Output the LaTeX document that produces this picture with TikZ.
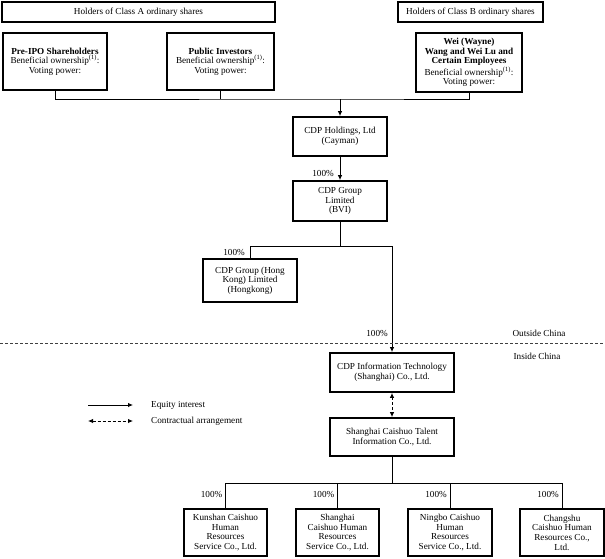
\documentclass[tikz,border=0pt]{standalone}
\usepackage{fontspec}
\setmainfont{Liberation Serif}
\usetikzlibrary{arrows.meta}
\begin{document}
\begin{tikzpicture}[x=1pt,y=-1pt,
 box/.style={draw,line width=1.8pt,align=center,inner sep=0pt,font=\fontsize{9.2}{9.6}\selectfont},
 conn/.style={line width=0.9pt},
 arr/.style={conn,-{Latex[length=5pt,width=4.5pt]}},
 darr/.style={conn,dashed,dash pattern=on 3pt off 2pt,{Latex[length=5pt,width=4.5pt]}-{Latex[length=5pt,width=4.5pt]}},
 lbl/.style={font=\fontsize{9.2}{9.6}\selectfont,inner sep=0pt}]
\useasboundingbox (0,0) rectangle (605,558);

% header boxes
\node[box,minimum width=273pt,minimum height=20pt] (hA) at (138.5,12) {Holders of Class A ordinary shares};
\node[box,minimum width=145pt,minimum height=20pt] (hB) at (470.5,12) {Holders of Class B ordinary shares};

% shareholders
\node[box,minimum width=104pt,minimum height=57pt] (pre) at (55,61.5) {\textbf{Pre-IPO Shareholders}\\Beneficial ownership\textsuperscript{(1)}:\\Voting power:};
\node[box,minimum width=107pt,minimum height=57pt] (pub) at (220.5,61.5) {\textbf{Public Investors}\\Beneficial ownership\textsuperscript{(1)}:\\Voting power:};
\node[box,minimum width=106pt,minimum height=59pt] (wei) at (469,62.5) {\textbf{Wei (Wayne)}\\\textbf{Wang and Wei Lu and}\\\textbf{Certain Employees}\\Beneficial ownership\textsuperscript{(1)}:\\Voting power:};

% companies
\node[box,minimum width=94pt,minimum height=39pt] (hold) at (340,136.5) {CDP Holdings, Ltd\\(Cayman)};
\node[box,minimum width=94pt,minimum height=40pt] (bvi) at (340,201) {CDP Group\\Limited\\(BVI)};
\node[box,minimum width=94pt,minimum height=43pt] (hk) at (250,280.5) {CDP Group (Hong\\Kong) Limited\\(Hongkong)};
\node[box,minimum width=124pt,minimum height=39pt] (info) at (392,372.5) {CDP Information Technology\\(Shanghai) Co., Ltd.};
\node[box,minimum width=124pt,minimum height=38pt] (tal) at (392,437) {Shanghai Caishuo Talent\\Information Co., Ltd.};

\node[box,minimum width=83pt,minimum height=47pt] (k) at (225.5,532.5) {Kunshan Caishuo\\Human\\Resources\\Service Co., Ltd.};
\node[box,minimum width=83pt,minimum height=47pt] (s) at (337.5,532.5) {Shanghai\\Caishuo Human\\Resources\\Service Co., Ltd.};
\node[box,minimum width=84pt,minimum height=47pt] (n) at (450,532.5) {Ningbo Caishuo\\Human\\Resources\\Service Co., Ltd.};
\node[box,minimum width=84pt,minimum height=47pt] (c) at (562,532.5) {Changshu\\Caishuo Human\\Resources Co.,\\Ltd.};

% connectors top
\coordinate (top) at (340,99);
\draw[conn] (pre.south) |- (top) -| (wei.south);
\draw[conn] (pub.south) -- (pub.south |- top);
\draw[arr] (top) -- (hold.north);
\draw[arr] (hold.south) -- (bvi.north);
\node[lbl,anchor=south east] (p0) at ([xshift=-6pt,yshift=3pt]bvi.north) {100\%};

\coordinate (b) at (340,246);
\draw[conn] (bvi.south) -- (b);
\draw[conn] (b) -| (hk.north);
\draw[arr] (b) -| (info.north);
\node[lbl,anchor=south east] (p1) at ([xshift=-5pt,yshift=2.5pt]hk.north) {100\%};
\node[lbl,anchor=south east] (p2) at (388,337) {100\%};

% border line
\coordinate (d1) at (0,343);
\coordinate (d2) at (605,343);
\draw[line width=0.9pt,dash pattern=on 2.5pt off 2.5pt,black!75] (d1) -- (d2);
\node[lbl] (out) at (539,333) {Outside China};
\node[lbl] (in) at (537,356) {Inside China};

\draw[darr] (info.south) -- (tal.north);

% bottom
\coordinate (t) at (392,483);
\draw[conn] (tal.south) -- (t);
\draw[conn] (t) -| (k.north);
\draw[conn] (t) -| (s.north);
\draw[conn] (t) -| (n.north);
\draw[conn] (t) -| (c.north);
\foreach \q in {k,s,n,c}{
  \node[lbl,anchor=south east] (pc\q) at ([xshift=-3pt,yshift=10pt]\q.north) {100\%};
}

% legend
\coordinate (l1a) at (88,405);
\coordinate (l1b) at (133,405);
\coordinate (l2a) at (88,421);
\coordinate (l2b) at (133,421);
\draw[arr] (l1a) -- (l1b);
\draw[darr] (l2a) -- (l2b);
\node[lbl,anchor=west] (l1t) at (151,405) {Equity interest};
\node[lbl,anchor=west] (l2t) at (151,421) {Contractual arrangement};
\end{tikzpicture}
\end{document}
